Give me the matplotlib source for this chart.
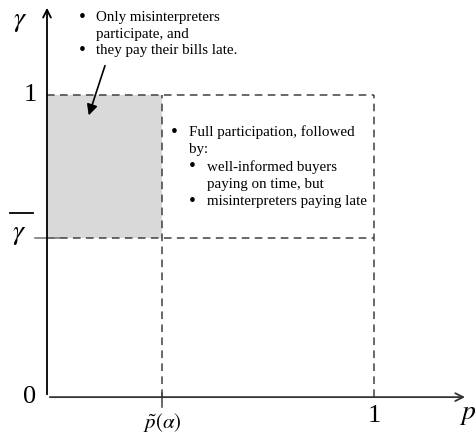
import matplotlib.pyplot as plt
from matplotlib.patches import Rectangle

plt.rcParams['font.family'] = ['Liberation Serif', 'DejaVu Serif']
plt.rcParams['mathtext.fontset'] = 'stix'

# region boundaries (in p, gamma units)
p_tilde = 0.352
gamma_bar = 0.527
p_max = 1.0
gamma_max = 1.0

top_lines = ["Only misinterpreters", "participate, and", "they pay their bills late."]
top_bullets = [True, False, True]
right_main = ["Full participation, followed", "by:"]
right_sub = ["well-informed buyers", "paying on time, but", "misinterpreters paying late"]
right_sub_bullets = [True, False, True]

fig = plt.figure(figsize=(4.77, 4.37), dpi=100)
ax = fig.add_axes([0, 0, 1, 1])
ax.set_xlim(-0.1437, 1.315)
ax.set_ylim(-0.132, 1.3146)
ax.axis('off')

# shaded region
ax.add_patch(Rectangle((0, gamma_bar), p_tilde, gamma_max - gamma_bar,
                       facecolor='#d9d9d9', edgecolor='none', zorder=1))

# dashed boundaries
dash = dict(color='#404040', lw=1.1, ls=(0, (5, 3.5)), zorder=2)
ax.plot([0, p_max], [gamma_max, gamma_max], **dash)
ax.plot([0, p_max], [gamma_bar, gamma_bar], **dash)
ax.plot([p_tilde, p_tilde], [0, gamma_max], **dash)
ax.plot([p_max, p_max], [0, gamma_max], **dash)

# small solid ticks
ax.plot([p_tilde, p_tilde], [-0.033, 0.013], color='#404040', lw=1.1)
ax.plot([-0.037, 0.04], [gamma_bar, gamma_bar], color='#707070', lw=1.1)

# axes with arrows
ax.annotate('', xy=(0, 1.298), xytext=(0, 0),
            arrowprops=dict(arrowstyle='->', lw=1.3, color='black', mutation_scale=14))
ax.annotate('', xy=(1.287, 0), xytext=(0, 0),
            arrowprops=dict(arrowstyle='->', lw=1.3, color='#333333', mutation_scale=14))

# axis labels
ax.text(-0.083, 1.245, r'$\gamma$', fontsize=20, ha='center', va='center')
ax.text(-0.052, gamma_max, '1', fontsize=19, ha='center', va='center')
ax.text(-0.085, gamma_bar + 0.012, r'$\gamma$', fontsize=20, ha='center', va='center')
ax.plot([-0.113, -0.043], [0.609, 0.609], color='black', lw=1.3)
ax.text(-0.052, 0, '0', fontsize=19, ha='center', va='center')
ax.text(p_max, -0.062, '1', fontsize=19, ha='center', va='center')
ax.text(1.287, -0.058, r'$p$', fontsize=20, ha='center', va='center')
ax.text(p_tilde, -0.085, r'$\tilde{p}(\alpha)$', fontsize=15, ha='center', va='center')

fs = 10.8
bfs = 14

# top annotation text
y_top = [1.258, 1.202, 1.149]
for line, b, y in zip(top_lines, top_bullets, y_top):
    if b:
        ax.text(0.107, y, '•', fontsize=bfs, ha='center', va='center')
    ax.text(0.15, y, line, fontsize=fs, ha='left', va='center')

# right annotation text
y_main = [0.877, 0.821]
ax.text(0.388, y_main[0], '•', fontsize=bfs, ha='center', va='center')
for line, y in zip(right_main, y_main):
    ax.text(0.434, y, line, fontsize=fs, ha='left', va='center')
y_sub = [0.762, 0.705, 0.646]
for line, b, y in zip(right_sub, right_sub_bullets, y_sub):
    if b:
        ax.text(0.445, y, '•', fontsize=bfs, ha='center', va='center')
    ax.text(0.489, y, line, fontsize=fs, ha='left', va='center')

# arrow pointing to shaded region
ax.annotate('', xy=(0.125, 0.924), xytext=(0.180, 1.106),
            arrowprops=dict(arrowstyle='-|>', lw=1.2, color='black', mutation_scale=16))

fig.savefig('out.png', dpi=100)
